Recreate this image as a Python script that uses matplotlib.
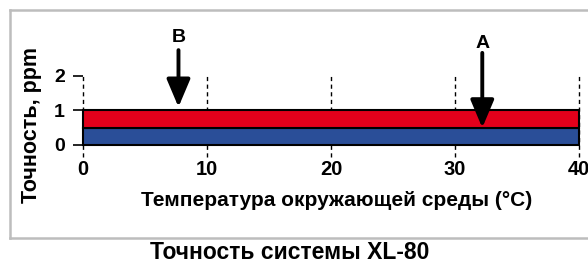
import matplotlib.pyplot as plt
from matplotlib.lines import Line2D

plt.rcParams['font.family'] = ['Liberation Sans', 'DejaVu Sans']
plt.rcParams['font.weight'] = 'bold'

# данные
temp_ticks = [0, 10, 20, 30, 40]
acc_ticks = [0, 1, 2]
temp_range = [0, 40]
band_bottoms = [0.0, 0.5]
band_heights = [0.5, 0.5]
band_colors = ['#2A4E98', '#E3001B']
marker_names = ['A', 'B']
marker_x = [32.2, 7.7]
marker_tip = [0.5, 1.1]
marker_tail = [2.67, 2.75]
marker_label_y = [2.81, 2.99]

W, H = 588, 265
fig = plt.figure(figsize=(W / 100, H / 100), dpi=100)
ax = fig.add_axes([83 / W, 0.4138, 496 / W, 0.4947])
ax.set_xlim(0, 40)
ax.set_ylim(-0.3, 3.5)

# пунктирные линии
for t in temp_ticks:
    ax.plot([t, t], [-0.35, 2], color='black', linestyle=(0, (3, 2.5)),
            linewidth=1.0, zorder=1, clip_on=False)

# полосы точности
for b, h, c in zip(band_bottoms, band_heights, band_colors):
    ax.barh(b + h / 2, temp_range[1] - temp_range[0], height=h,
            left=temp_range[0], color=c, edgecolor='black', linewidth=1.5,
            zorder=2, clip_on=False)

# стрелки
for name, x, tip, tail, ly in zip(marker_names, marker_x, marker_tip,
                                  marker_tail, marker_label_y):
    ax.annotate('', xy=(x, tip), xytext=(x, tail),
                arrowprops=dict(arrowstyle='-|>,head_length=0.85,head_width=0.36',
                                color='black', lw=2.8, shrinkA=0, shrinkB=0,
                                mutation_scale=20), zorder=3)
    ax.text(x, ly, name, ha='center', va='baseline', fontsize=14,
            fontweight='bold')

for s in ax.spines.values():
    s.set_visible(False)
ax.set_xticks(temp_ticks)
ax.set_yticks(acc_ticks)
ax.tick_params(axis='x', length=0, pad=3.5, labelsize=14.5)
ax.tick_params(axis='y', length=7, width=1.2, pad=6, labelsize=14)
for lab in ax.get_xticklabels() + ax.get_yticklabels():
    lab.set_fontweight('bold')

fig.text(337 / W, 1 - 206 / H, 'Температура окружающей среды (°C)',
         ha='center', va='baseline', fontsize=15, fontweight='bold')
fig.text(32 / W, 1 - 125 / H, 'Точность, ppm', rotation=90,
         ha='center', va='center', fontsize=15.5, fontweight='bold')
fig.text(290 / W, 1 - 259 / H, 'Точность системы XL-80',
         ha='center', va='baseline', fontsize=16.5, fontweight='bold')

# рамка
grey = '#BDBDBD'
x0, yt, yb = 10 / W, 1 - 10 / H, 1 - 238 / H
fig.add_artist(Line2D([x0, 1], [yt, yt], color=grey, lw=1.8))
fig.add_artist(Line2D([x0, 1], [yb, yb], color=grey, lw=1.8))
fig.add_artist(Line2D([x0, x0], [yb, yt], color=grey, lw=1.8))

fig.savefig('out.png', dpi=100)
